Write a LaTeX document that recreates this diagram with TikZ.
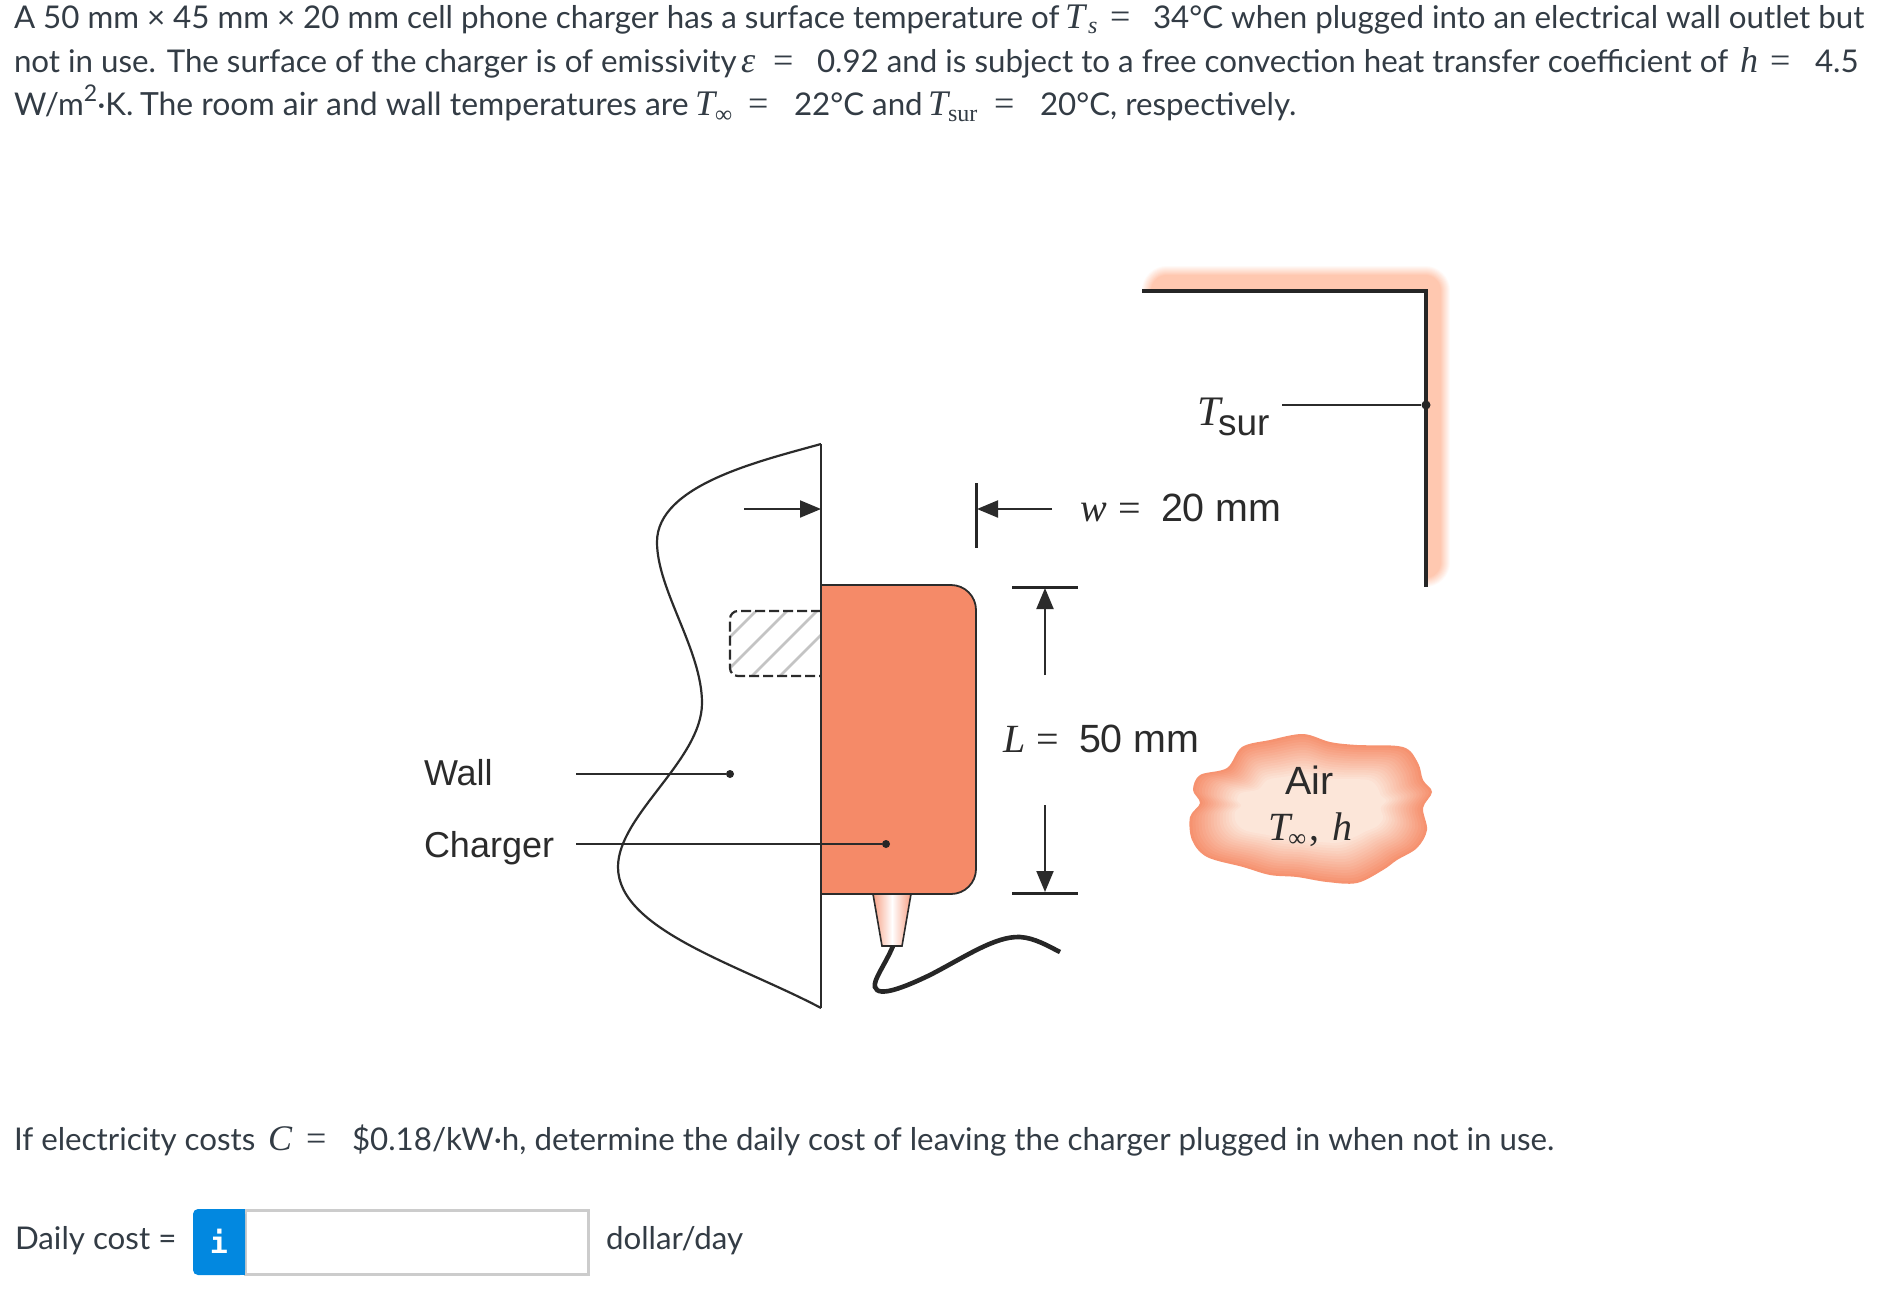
\documentclass[tikz,border=0pt]{standalone}
\usepackage{fontspec}
\setmainfont{Lato}
\newfontfamily\serfam{Liberation Serif}
\newfontfamily\helv{Liberation Sans}
\newfontfamily\monob{DejaVu Sans Mono}
\usetikzlibrary{arrows.meta}
\definecolor{ink}{HTML}{333C45}
\definecolor{fig}{HTML}{2B2B2B}
\definecolor{charger}{HTML}{F58A68}
\definecolor{peach}{HTML}{FFC8B0}
\definecolor{cloudout}{HTML}{F69270}
\definecolor{cloudin}{HTML}{FCE6D9}
\definecolor{infoblue}{HTML}{0288E0}
\definecolor{boxgrey}{HTML}{CCCCCC}
\definecolor{hatchgrey}{HTML}{C4C4C4}
\newcommand{\mi}[1]{{\serfam\itshape #1}}
\newcommand{\mr}[1]{{\serfam #1}}
\newcommand{\cloudfill}[1]{\fill[#1] plot[smooth cycle,tension=.55] coordinates {(-7,-74)(20,-66)(47,-63)(93,-61)(108,-45)(113,-28)(122,-16)(113,0)(117,22)(107,40)(87,52)(73,62)(47,75)(17,74)(-13,69)(-40,67)(-67,59)(-103,49)(-118,32)(-120,9)(-110,-5)(-117,-18)(-110,-33)(-83,-40)(-68,-61)(-40,-68)};}
\tikzset{
  txt/.style={anchor=base west,inner sep=0pt,outer sep=0pt,text=ink,font=\fontsize{15.65}{18}\selectfont},
  mathtxt/.style={txt,font=\fontsize{18}{18}\selectfont},
  subtxt/.style={txt,font=\fontsize{12}{12}\selectfont},
  figtxt/.style={anchor=base west,inner sep=0pt,outer sep=0pt,text=fig,font=\fontsize{18}{20}\selectfont\helv},
  dimtxt/.style={figtxt,font=\fontsize{19.7}{20}\selectfont\helv},
  figmath/.style={figtxt,font=\fontsize{20}{20}\selectfont},
  thinline/.style={draw=fig,line width=1.1pt},
  dimline/.style={draw=fig,line width=1pt,-{Triangle[length=10.5pt,width=8.5pt]}},
  dimbar/.style={draw=black!85,line width=1.5pt},
  leaddot/.style={circle,fill=black!85,inner sep=0pt,minimum size=4pt}
}
\begin{document}
\begin{tikzpicture}[x=.5pt,y=-.5pt]
\useasboundingbox (0,0) rectangle (1891,1296);
\fill[white] (0,0) rectangle (1891,1296);

% --- problem statement
\node[txt] (l1a) at (14,28) {A 50 mm × 45 mm × 20 mm cell phone charger has a surface temperature of};
\node[mathtxt] (l1b) at (1065,28) {\mi{T}};
\node[subtxt] (l1c) at (1088,33) {\mi{s}};
\node[mathtxt] (l1d) at (1110,28) {\mr{=}};
\node[txt] (l1e) at (1153,28) {34°C when plugged into an electrical wall outlet but};

\node[txt] (l2a) at (14,72) {not in use. The surface of the charger is of emissivity};
\node[mathtxt] (l2b) at (741,72) {\mi{ε}};
\node[mathtxt] (l2c) at (773,72) {\mr{=}};
\node[txt] (l2d) at (817,72) {0.92 and is subject to a free convection heat transfer coefficient of};
\node[mathtxt] (l2e) at (1740,72) {\mi{h}};
\node[mathtxt] (l2f) at (1770,72) {\mr{=}};
\node[txt] (l2g) at (1815,72) {4.5};

\node[txt] (l3z) at (14,115) {W/m\raisebox{.42em}{\fontsize{11.5}{12}\selectfont 2}·K.};
\node[txt,font=\fontsize{15.95}{18}\selectfont] (l3a) at (140,115) {The room air and wall temperatures are};
\node[mathtxt] (l3b) at (695,115) {\mi{T}};
\node[subtxt] (l3c) at (715,122) {\mr{∞}};
\node[mathtxt] (l3d) at (748,115) {\mr{=}};
\node[txt] (l3e) at (794,115) {22°C and};
\node[mathtxt] (l3f) at (928,115) {\mi{T}};
\node[subtxt] (l3g) at (948,121) {\mr{sur}};
\node[mathtxt] (l3h) at (994,115) {\mr{=}};
\node[txt] (l3i) at (1040,115) {20°C, respectively.};

% --- surroundings band
\begin{scope}
  \clip (1142,240) -- (1480,240) -- (1480,587) -- (1425,587) -- (1425,291) -- (1142,291) -- cycle;
  \foreach \r in {26,...,14}{
    \pgfmathsetmacro{\p}{min(100,(26-\r)*10)}
    \draw[line width=\r pt,line cap=round,line join=round,color=peach!\p!white]
      (1167,291) -- (1425,291) -- (1425,562);
  }
\end{scope}
\coordinate (surA) at (1142,291);
\coordinate (surB) at (1426,291);
\coordinate (surC) at (1426,587);
\draw[draw=black!85,line width=1.7pt] (surA) -- (surB) -- (surC);
\node[leaddot,minimum size=4.5pt] (surdot) at (1426,405) {};
\coordinate (surlead) at (1282,405);
\draw[thinline] (surlead) -- (surdot);
\node[figmath] (tsurT) at (1197,425) {\fontsize{21}{22}\selectfont\mi{T}};
\node[figtxt,font=\fontsize{18.5}{20}\selectfont\helv] (tsurS) at (1218,435) {sur};

% --- wall
\coordinate (walltop) at (821,444);
\coordinate (wallbot) at (821,1008);
\draw[thinline] (walltop) -- (wallbot);
\draw[thinline,line join=round] (walltop) .. controls (760,461) and (657,485) .. (657,542) .. controls (657,590) and (702,650) .. (702,703) .. controls (702,760) and (618,815) .. (618,867) .. controls (618,930) and (740,965) .. (wallbot);

% --- hatched plug in the wall
\begin{scope}
  \clip (730,611) rectangle (821,676);
  \draw[hatchgrey,line width=1.3pt] (730,637) -- (760,607);
  \draw[hatchgrey,line width=1.3pt] (730,668) -- (790,608);
  \draw[hatchgrey,line width=1.3pt] (750,678) -- (820,608);
  \draw[hatchgrey,line width=1.3pt] (778,678) -- (824,632);
\end{scope}
\draw[fig,line width=1.1pt,dash pattern=on 5pt off 2pt,rounded corners=4pt] (821,611) -- (730,611) -- (730,676) -- (821,676);

% --- charger body
\fill[charger,draw=fig,line width=.9pt] (821,585) [rounded corners=12.5pt] -- (976,585) -- (976,894) [sharp corners] -- (821,894) -- cycle;
\draw[thinline] (821,585) -- (821,894);

% --- prong and cord
\path[left color=charger!80,right color=charger!80,middle color=white,draw=fig,line width=.8pt] (873,894) -- (911,894) -- (902,946) -- (882,946) -- cycle;
\draw[black!85,line width=2.3pt,line cap=butt] (893,946) .. controls (885,965) and (873,980) .. (875,987) .. controls (878,998) and (905,987) .. (930,975) .. controls (965,957) and (995,936) .. (1020,937) .. controls (1035,938) and (1048,946) .. (1060,952);

% --- w dimension
\coordinate (wla) at (744,509);
\coordinate (wlb) at (821,509);
\draw[dimline] (wla) -- (wlb);
\coordinate (wbara) at (976,483);
\coordinate (wbarb) at (976,548);
\draw[dimbar] (wbara) -- (wbarb);
\coordinate (wra) at (1052,509);
\coordinate (wrb) at (977,509);
\draw[dimline] (wra) -- (wrb);
\node[figmath] (wlab) at (1080,521) {\mi{w}};
\node[figmath] (weq) at (1118,521) {\mr{=}};
\node[dimtxt] (wval) at (1161,521) {20 mm};

% --- L dimension
\coordinate (lbara) at (1012,587);
\coordinate (lbarb) at (1078,587);
\draw[dimbar] (lbara) -- (lbarb);
\coordinate (lua) at (1045,675);
\coordinate (lub) at (1045,588);
\draw[dimline] (lua) -- (lub);
\coordinate (lcara) at (1012,893);
\coordinate (lcarb) at (1078,893);
\draw[dimbar] (lcara) -- (lcarb);
\coordinate (lda) at (1045,805);
\coordinate (ldb) at (1045,892);
\draw[dimline] (lda) -- (ldb);
\node[figmath] (llab) at (1003,752) {\mi{L}};
\node[figmath] (leq) at (1036,752) {\mr{=}};
\node[dimtxt] (lval) at (1079,752) {50 mm};

% --- labels with leaders
\node[figtxt] (wall) at (424,785) {Wall};
\node[figtxt] (chg) at (424,857) {Charger};
\node[leaddot] (walldot) at (730,774) {};
\node[leaddot] (chgdot) at (886,844) {};
\coordinate (wallstart) at (576,774);
\coordinate (chgstart) at (576,844);
\draw[thinline] (wallstart) -- (walldot);
\draw[thinline] (chgstart) -- (chgdot);

% --- air cloud
\foreach \i in {0,...,15}{
  \pgfmathsetmacro{\p}{100-\i*100/15}
  \pgfmathsetmacro{\sx}{1-\i*.025}
  \pgfmathsetmacro{\sy}{1-\i*.036}
  \begin{scope}[shift={(1310,808)},xscale=\sx,yscale=\sy]
    \cloudfill{cloudout!\p!cloudin}
  \end{scope}
}
\node[dimtxt] (air) at (1285,794) {Air};
\node[figmath] (airT) at (1268,840) {\mi{T}};
\node[anchor=base west,inner sep=0pt,text=fig,font=\fontsize{12.5}{12}\selectfont] (airinf) at (1288,846) {\mr{∞}};
\node[figmath] (aircomma) at (1309,840) {\mr{,}};
\node[figmath] (airh) at (1332,840) {\mi{h}};

% --- question line
\node[txt] (q1) at (14,1150) {If electricity costs};
\node[mathtxt] (q2) at (268,1150) {\mi{C}};
\node[mathtxt] (q3) at (306,1150) {\mr{=}};
\node[txt] (q4) at (352,1150) {\$0.18/kW·h, determine the daily cost of leaving the charger plugged in when not in use.};

% --- answer line
\node[txt] (a1) at (15,1249) {Daily cost =};
\fill[white,draw=boxgrey,line width=1.5pt] (245,1210) rectangle (588.5,1274);
\fill[infoblue,rounded corners=2.5pt] (193,1209) rectangle (245,1275);
\fill[infoblue] (225,1209) rectangle (245,1275);
\node[anchor=center,inner sep=0pt,text=white,font=\fontsize{15}{15}\selectfont\monob\bfseries] (info) at (219,1241) {i};
\node[txt] (a2) at (606,1249) {dollar/day};
\end{tikzpicture}
\end{document}
